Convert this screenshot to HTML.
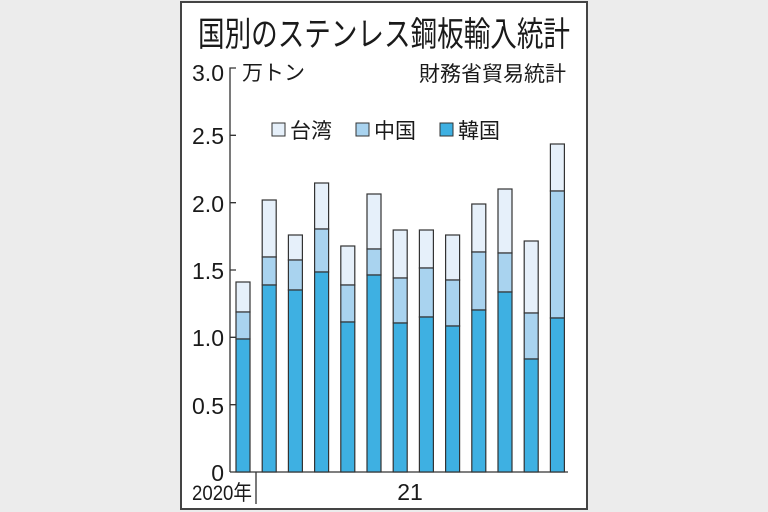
<!DOCTYPE html>
<html><head><meta charset="utf-8"><style>
html,body{margin:0;padding:0;background:#ececec;}
svg{display:block}
text{font-family:"Liberation Sans","Noto Sans CJK JP",sans-serif;fill:#1a1a1a}
.t{fill:#e6f0fa}.c{fill:#a9d3ef}.k{fill:#3eb0e2}
</style></head><body>
<svg width="768" height="512" viewBox="0 0 768 512" xmlns="http://www.w3.org/2000/svg">
<rect x="0" y="0" width="768" height="512" fill="#ececec"/>
<rect x="181" y="2" width="406" height="507" fill="#fff" stroke="#444" stroke-width="2"/>
<text x="384" y="46" font-size="34" text-anchor="middle" textLength="372" lengthAdjust="spacingAndGlyphs">国別のステンレス鋼板輸入統計</text>
<text x="224" y="81" font-size="23" text-anchor="end">3.0</text>
<text x="242" y="80" font-size="21">万トン</text>
<text x="566" y="81" font-size="21" text-anchor="end">財務省貿易統計</text>
<g font-size="23" text-anchor="end">
<text x="224" y="144">2.5</text>
<text x="224" y="212">2.0</text>
<text x="224" y="279">1.5</text>
<text x="224" y="346">1.0</text>
<text x="224" y="414">0.5</text>
<text x="224" y="481">0</text>
</g>
<g stroke="#333" stroke-width="1.3" fill="none">
<path d="M236 68h-6V472M230 135.3h6M230 202.7h6M230 270h6M230 337.3h6M230 404.7h6M230 472H568M256 472V504"/>
</g>
<g stroke="#333" stroke-width="1">
<rect x="272" y="123" width="13" height="13" class="t"/>
<rect x="356" y="123" width="13" height="13" class="c"/>
<rect x="440" y="123" width="13" height="13" class="k"/>
</g>
<text x="290" y="138" font-size="21">台湾</text>
<text x="374" y="138" font-size="21">中国</text>
<text x="458" y="138" font-size="21">韓国</text>
<g stroke="#333" stroke-width="1.2">
<rect x="236" y="282" width="14" height="30" class="t"/><rect x="236" y="312" width="14" height="27" class="c"/><rect x="236" y="339" width="14" height="133" class="k"/>
<rect x="262.2" y="200" width="14" height="57" class="t"/><rect x="262.2" y="257" width="14" height="28" class="c"/><rect x="262.2" y="285" width="14" height="187" class="k"/>
<rect x="288.4" y="235" width="14" height="25" class="t"/><rect x="288.4" y="260" width="14" height="30" class="c"/><rect x="288.4" y="290" width="14" height="182" class="k"/>
<rect x="314.6" y="183" width="14" height="46" class="t"/><rect x="314.6" y="229" width="14" height="43" class="c"/><rect x="314.6" y="272" width="14" height="200" class="k"/>
<rect x="340.8" y="246" width="14" height="39" class="t"/><rect x="340.8" y="285" width="14" height="37" class="c"/><rect x="340.8" y="322" width="14" height="150" class="k"/>
<rect x="367" y="194" width="14" height="55" class="t"/><rect x="367" y="249" width="14" height="26" class="c"/><rect x="367" y="275" width="14" height="197" class="k"/>
<rect x="393.2" y="230" width="14" height="48" class="t"/><rect x="393.2" y="278" width="14" height="45" class="c"/><rect x="393.2" y="323" width="14" height="149" class="k"/>
<rect x="419.4" y="230" width="14" height="38" class="t"/><rect x="419.4" y="268" width="14" height="49" class="c"/><rect x="419.4" y="317" width="14" height="155" class="k"/>
<rect x="445.6" y="235" width="14" height="45" class="t"/><rect x="445.6" y="280" width="14" height="46" class="c"/><rect x="445.6" y="326" width="14" height="146" class="k"/>
<rect x="471.8" y="204" width="14" height="48" class="t"/><rect x="471.8" y="252" width="14" height="58" class="c"/><rect x="471.8" y="310" width="14" height="162" class="k"/>
<rect x="498" y="189" width="14" height="64" class="t"/><rect x="498" y="253" width="14" height="39" class="c"/><rect x="498" y="292" width="14" height="180" class="k"/>
<rect x="524.2" y="241" width="14" height="72" class="t"/><rect x="524.2" y="313" width="14" height="46" class="c"/><rect x="524.2" y="359" width="14" height="113" class="k"/>
<rect x="550.4" y="144" width="14" height="47" class="t"/><rect x="550.4" y="191" width="14" height="127" class="c"/><rect x="550.4" y="318" width="14" height="154" class="k"/>
</g>
<text x="192" y="500" font-size="21" textLength="60" lengthAdjust="spacingAndGlyphs">2020年</text>
<text x="410" y="500" font-size="23" text-anchor="middle">21</text>
</svg>
</body></html>
